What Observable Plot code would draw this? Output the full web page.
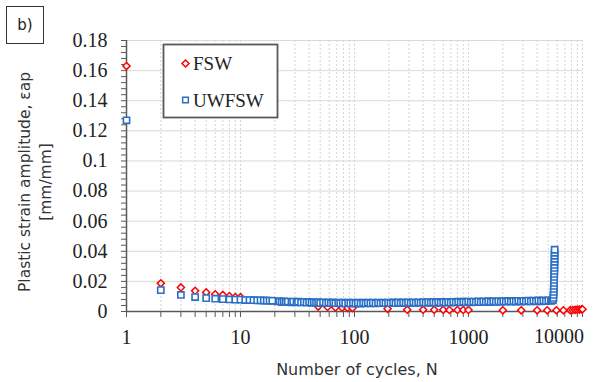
<!DOCTYPE html>
<html>
<head>
<meta charset="utf-8">
<script src="https://cdn.jsdelivr.net/npm/d3@7"></script>
<script src="https://cdn.jsdelivr.net/npm/@observablehq/plot@0.6"></script>
<style>
  html, body { margin: 0; padding: 0; background: #fff; }
  #chart { width: 611px; height: 382px; position: relative; }
</style>
</head>
<body>
<div id="chart"></div>
<script>
// ---- data ----
const seriesNames = ["FSW", "UWFSW"];
const fswN  = [1, 2, 3, 4, 5, 6, 7, 8, 9, 10, 20, 48, 58, 68, 78, 87, 96, 195, 290, 400, 500, 600, 680, 800, 900, 1000, 2000, 2900, 4000, 4900, 5900, 6800, 7800, 8200, 8600, 9000, 9400, 9800, 10000];
const fswEp = [0.163, 0.0187, 0.0160, 0.0137, 0.0127, 0.0114, 0.0110, 0.0102, 0.0096, 0.0095, 0.0069, 0.0033, 0.0030, 0.0027, 0.0025, 0.0024, 0.0023, 0.0018, 0.0012, 0.0012, 0.0011, 0.0011, 0.0010, 0.0010, 0.0010, 0.0010, 0.0008, 0.0008, 0.0008, 0.0008, 0.0008, 0.0008, 0.0009, 0.0010, 0.0011, 0.0012, 0.0013, 0.0014, 0.0015];

// UWFSW: early cycles
const uwEarlyN  = [1, 2, 3, 4, 5, 6, 7, 8, 9, 10, 11, 12, 13, 14, 15, 16, 17, 18, 19];
const uwEarlyEp = [0.127, 0.0142, 0.0110, 0.0096, 0.0089, 0.0085, 0.0082, 0.0080, 0.0079, 0.0079, 0.0076, 0.0076, 0.0075, 0.0074, 0.0074, 0.0073, 0.0072, 0.0072, 0.0071];
// UWFSW: dense plateau band
const uwBandN  = [22, 23, 24, 25, 26, 28, 29, 31, 32, 34, 36, 38, 40, 42, 44, 46, 48, 50, 53, 56, 59, 62, 65, 68, 72, 75, 79, 83, 88, 92, 97, 102, 107, 113, 119, 125, 131, 138, 145, 153, 161, 169, 178, 187, 197, 207, 218, 229, 241, 254, 267, 281, 295, 311, 327, 344, 362, 380, 400, 421, 443, 466, 490, 515, 542, 570, 600, 631, 664, 698, 734, 772, 812, 854, 899, 945, 994, 1046, 1100, 1157, 1217, 1280, 1347, 1417, 1490, 1567, 1649, 1734, 1824, 1919, 2018, 2123, 2233, 2349, 2471, 2599, 2734, 2876, 3025, 3182, 3347, 3521, 3704, 3896, 4098, 4311, 4535, 4770, 5018, 5278, 5400, 5500];
const uwBandEp = [0.0068, 0.0063, 0.0067, 0.0062, 0.0066, 0.0061, 0.0066, 0.0060, 0.0065, 0.0060, 0.0064, 0.0059, 0.0063, 0.0058, 0.0062, 0.0057, 0.0062, 0.0056, 0.0061, 0.0056, 0.0060, 0.0055, 0.0060, 0.0055, 0.0059, 0.0054, 0.0059, 0.0054, 0.0058, 0.0054, 0.0058, 0.0053, 0.0058, 0.0053, 0.0058, 0.0054, 0.0058, 0.0054, 0.0059, 0.0054, 0.0059, 0.0055, 0.0059, 0.0055, 0.0059, 0.0055, 0.0060, 0.0055, 0.0060, 0.0056, 0.0060, 0.0056, 0.0061, 0.0056, 0.0061, 0.0057, 0.0061, 0.0057, 0.0062, 0.0057, 0.0062, 0.0058, 0.0062, 0.0058, 0.0063, 0.0058, 0.0063, 0.0059, 0.0064, 0.0059, 0.0064, 0.0060, 0.0065, 0.0060, 0.0065, 0.0061, 0.0066, 0.0061, 0.0066, 0.0062, 0.0067, 0.0062, 0.0067, 0.0063, 0.0068, 0.0063, 0.0068, 0.0064, 0.0069, 0.0064, 0.0069, 0.0065, 0.0070, 0.0065, 0.0070, 0.0066, 0.0071, 0.0066, 0.0071, 0.0067, 0.0072, 0.0067, 0.0072, 0.0068, 0.0073, 0.0068, 0.0073, 0.0069, 0.0074, 0.0070, 0.0074, 0.0076];
// UWFSW: final rise before failure
const uwSpikeN  = [5550, 5570, 5590, 5600, 5610, 5620, 5630, 5640, 5650, 5660, 5670, 5675, 5680, 5685, 5690, 5695, 5700];
const uwSpikeEp = [0.009, 0.011, 0.013, 0.015, 0.017, 0.019, 0.021, 0.023, 0.025, 0.027, 0.029, 0.031, 0.033, 0.035, 0.037, 0.039, 0.041];

const yTicks = [0, 0.02, 0.04, 0.06, 0.08, 0.10, 0.12, 0.14, 0.16, 0.18];
const yTickLabels = ["0", "0.02", "0.04", "0.06", "0.08", "0.1", "0.12", "0.14", "0.16", "0.18"];
const yMinorStep = 0.004;
const xTicks = [1, 10, 100, 1000, 10000];
const xTickLabels = ["1", "10", "100", "1000", "10000"];
const xMultipliers = [1, 2, 3, 4, 5, 6, 7, 8, 9];

const yTitle = ["Plastic strain amplitude, εap", "[mm/mm]"];
const xTitle = "Number of cycles, N";
const panelLabel = "b)";

// ---- derived tables ----
const fsw = fswN.map((n, i) => ({N: n, ep: fswEp[i]}));
const uw = [
  ...uwEarlyN.map((n, i) => ({N: n, ep: uwEarlyEp[i]})),
  ...uwBandN.map((n, i) => ({N: n, ep: uwBandEp[i]})),
  ...uwSpikeN.map((n, i) => ({N: n, ep: uwSpikeEp[i]}))
];
const yMinor = d3.range(0, 0.18 + 1e-9, yMinorStep);
const xMinor = [];
for (const d of xTicks.slice(0, -1)) for (const m of xMultipliers) xMinor.push(d * m);
xMinor.push(10000);
const lbl = (ticks, labels) => (d) => labels[ticks.indexOf(d)];

const red = "#ff0000";
const blue = "#2a6fc6";
const axisCol = "#595959";

const plot = Plot.plot({
  width: 611,
  height: 382,
  marginLeft: 126,
  marginRight: 29,
  marginTop: 40,
  marginBottom: 71,
  x: {type: "log", domain: [1, 10000], label: null},
  y: {domain: [0, 0.18], label: null},
  style: {fontFamily: "'Liberation Serif', serif", background: "white", color: "#222"},
  marks: [
    Plot.ruleX(xMinor.slice(1), {stroke: "#d4d4d4", strokeDasharray: "2,2", strokeWidth: 1}),
    Plot.ruleY(yTicks.slice(1), {stroke: "#d9d9d9", strokeWidth: 1}),
    Plot.axisY(yMinor, {tickSize: 5, tickFormat: () => "", stroke: axisCol, label: null}),
    Plot.axisY(yTicks, {tickSize: 0, tickPadding: 19, fontSize: 20, tickFormat: lbl(yTicks, yTickLabels), fill: "#222", label: null}),
    Plot.axisX(xMinor, {tickSize: 6, tickFormat: () => "", stroke: axisCol, label: null}),
    Plot.axisX(xTicks.slice(0, -1), {tickSize: 0, tickPadding: 18, fontSize: 20, tickFormat: lbl(xTicks, xTickLabels), fill: "#222", label: null}),
    Plot.ruleX([1], {stroke: axisCol, strokeWidth: 1.5}),
    Plot.ruleY([0], {stroke: axisCol, strokeWidth: 1.5}),
    Plot.dot(fsw, {x: "N", y: "ep", symbol: "diamond2", r: 3.2, stroke: red, fill: "white", strokeWidth: 1.5}),
    Plot.dot(uw, {x: "N", y: "ep", symbol: "square", r: 3.5, stroke: blue, fill: "white", strokeWidth: 1.6})
  ]
});

document.getElementById("chart").appendChild(plot);
const svg = d3.select(plot);
const xs = plot.scale("x");

// last x tick label, right-aligned to the plot edge (as in the reference)
const lastTick = xTicks[xTicks.length - 1];
svg.append("text").attr("x", xs.apply(lastTick) + 2).attr("y", 311).attr("dy", 32)
  .attr("text-anchor", "end").attr("font-family", "'Liberation Serif', serif")
  .attr("font-size", 20).attr("fill", "#222").text(xTickLabels[xTicks.length - 1]);

// legend
const lg = svg.append("g").attr("text-anchor", "start");
lg.append("rect").attr("x", 163.5).attr("y", 44.5).attr("width", 114).attr("height", 73)
  .attr("fill", "white").attr("stroke", axisCol).attr("stroke-width", 1.8);
const sym = (type, r) => d3.symbol().type(type).size(Math.PI * r * r)();
const legendItems = [
  {name: seriesNames[0], type: d3.symbolDiamond2, r: 3.2, color: red, y: 63.5},
  {name: seriesNames[1], type: d3.symbolSquare, r: 3.2, color: blue, y: 100}
];
for (const it of legendItems) {
  lg.append("path").attr("d", sym(it.type, it.r)).attr("transform", `translate(185.5,${it.y})`)
    .attr("fill", "white").attr("stroke", it.color).attr("stroke-width", 1.5);
  lg.append("text").attr("x", 193).attr("y", it.y).attr("dy", "0.35em").attr("text-anchor", "start")
    .attr("font-family", "'Liberation Serif', serif").attr("font-size", 19).attr("fill", "#222")
    .text(it.name);
}

// axis titles
const tg = svg.append("g").attr("font-family", "'DejaVu Sans', sans-serif").attr("fill", "#333");
tg.append("text").attr("transform", "translate(25,182) rotate(-90)").attr("font-size", 15.5).attr("text-anchor", "middle").attr("dy", "0.35em").text(yTitle[0]);
tg.append("text").attr("transform", "translate(46,182) rotate(-90)").attr("font-size", 15.5).attr("text-anchor", "middle").attr("dy", "0.35em").text(yTitle[1]);
tg.append("text").attr("x", 357).attr("y", 369).attr("font-size", 16).attr("text-anchor", "middle").attr("dy", "0.35em").text(xTitle);

// panel label
svg.append("rect").attr("x", 6.5).attr("y", 6.5).attr("width", 37).attr("height", 37)
  .attr("fill", "white").attr("stroke", "#333").attr("stroke-width", 1);
svg.append("text").attr("x", 25).attr("y", 25).attr("dy", "0.35em").attr("text-anchor", "middle")
  .attr("font-family", "'DejaVu Sans', sans-serif").attr("font-size", 15).attr("fill", "#222").text(panelLabel);
</script>
</body>
</html>
